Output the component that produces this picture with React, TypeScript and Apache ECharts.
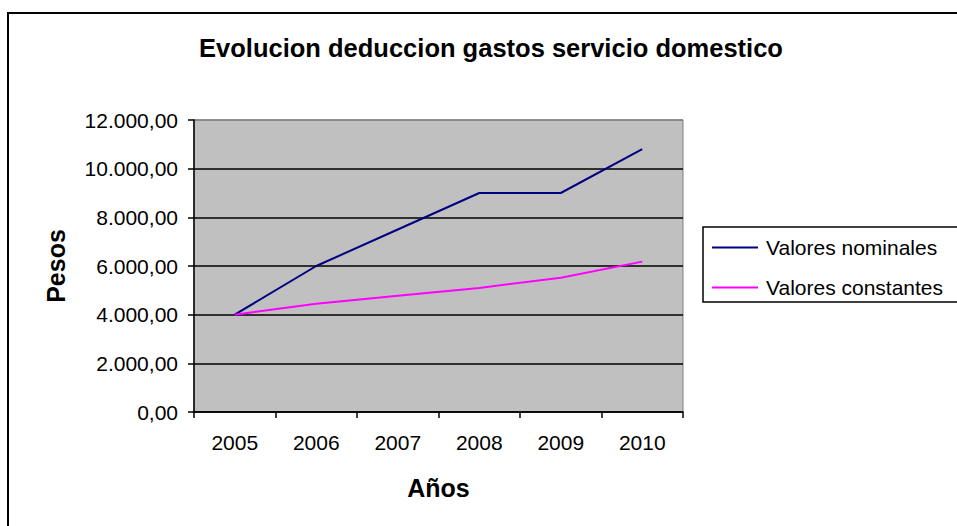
import React, { useEffect, useRef } from "react";
import * as echarts from "echarts";

const years = ["2005", "2006", "2007", "2008", "2009", "2010"];
const nominales = [4000, 6000, 7500, 9000, 9000, 10800];
const constantes = [4000, 4450, 4780, 5100, 5520, 6180];
const seriesNames = ["Valores nominales", "Valores constantes"];
const titleText = "Evolucion deduccion gastos servicio domestico";
const xName = "Años";
const yName = "Pesos";

const FONT = "'Liberation Sans', Arial, sans-serif";

function fmt(v: number): string {
  const fixed = v.toFixed(2);
  const [intPart, dec] = fixed.split(".");
  const withDots = intPart.replace(/\B(?=(\d{3})+(?!\d))/g, ".");
  return withDots + "," + dec;
}

export default function App() {
  const ref = useRef<HTMLDivElement>(null);
  useEffect(() => {
    if (!ref.current) return;
    const chart = echarts.init(ref.current, null, { renderer: "svg" });
    chart.setOption({
      animation: false,
      backgroundColor: "#ffffff",
      textStyle: { fontFamily: FONT },
      title: {
        text: titleText,
        left: 486,
        textAlign: "center",
        top: 30,
        textStyle: { fontFamily: FONT, fontSize: 25.5, fontWeight: "bold", color: "#000" },
      },
      graphic: [
        {
          type: "rect",
          shape: { x: 8, y: 13, width: 1000, height: 600 },
          style: { fill: "none", stroke: "#000", lineWidth: 2 },
          silent: true,
        },
        {
          type: "rect",
          shape: { x: 703, y: 227, width: 400, height: 75 },
          style: { fill: "#fff", stroke: "#000", lineWidth: 1.5 },
          silent: true,
          z: -1,
        },
      ],
      legend: {
        left: 707,
        top: 232,
        orient: "vertical",
        icon: "rect",
        itemWidth: 46,
        itemHeight: 2,
        itemGap: 19,
        data: seriesNames,
        textStyle: { fontFamily: FONT, fontSize: 21, color: "#000", lineHeight: 21, padding: [0, 0, 0, 3] },
      },
      grid: {
        left: 194,
        top: 120,
        width: 489,
        height: 292,
        show: true,
        backgroundColor: "#c0c0c0",
        borderColor: "#808080",
        borderWidth: 1,
      },
      xAxis: {
        type: "category",
        data: years,
        boundaryGap: true,
        name: xName,
        nameLocation: "middle",
        nameGap: 63,
        nameTextStyle: { fontFamily: FONT, fontSize: 25, fontWeight: "bold", color: "#000" },
        axisLine: { lineStyle: { color: "#000", width: 1.5 } },
        axisTick: { show: true, length: 6, alignWithLabel: false, lineStyle: { color: "#000", width: 1.5 } },
        axisLabel: { fontFamily: FONT, fontSize: 21, color: "#000", margin: 20 },
        splitLine: { show: false },
      },
      yAxis: {
        type: "value",
        min: 0,
        max: 12000,
        interval: 2000,
        name: yName,
        nameLocation: "middle",
        nameGap: 126,
        nameTextStyle: { fontFamily: FONT, fontSize: 25, fontWeight: "bold", color: "#000" },
        axisLine: { show: true, lineStyle: { color: "#000", width: 1.5 } },
        axisTick: { show: true, length: 6, lineStyle: { color: "#000", width: 1.5 } },
        axisLabel: { fontFamily: FONT, fontSize: 21, color: "#000", margin: 16, formatter: (v: number) => fmt(v) },
        splitLine: {
          show: true,
          lineStyle: { color: ["#000", "#000", "#000", "#000", "#000", "#000", "#808080"], width: 1.5 },
        },
      },
      series: [
        {
          name: seriesNames[0],
          type: "line",
          data: nominales,
          symbol: "none",
          color: "#000080",
          lineStyle: { color: "#000080", width: 2 },
        },
        {
          name: seriesNames[1],
          type: "line",
          data: constantes,
          symbol: "none",
          color: "#ff00ff",
          lineStyle: { color: "#ff00ff", width: 2 },
        },
      ],
    });
    return () => chart.dispose();
  }, []);
  return (
    <div
      ref={ref}
      style={{ position: "fixed", left: 0, top: 0, width: 957, height: 526 }}
    />
  );
}
